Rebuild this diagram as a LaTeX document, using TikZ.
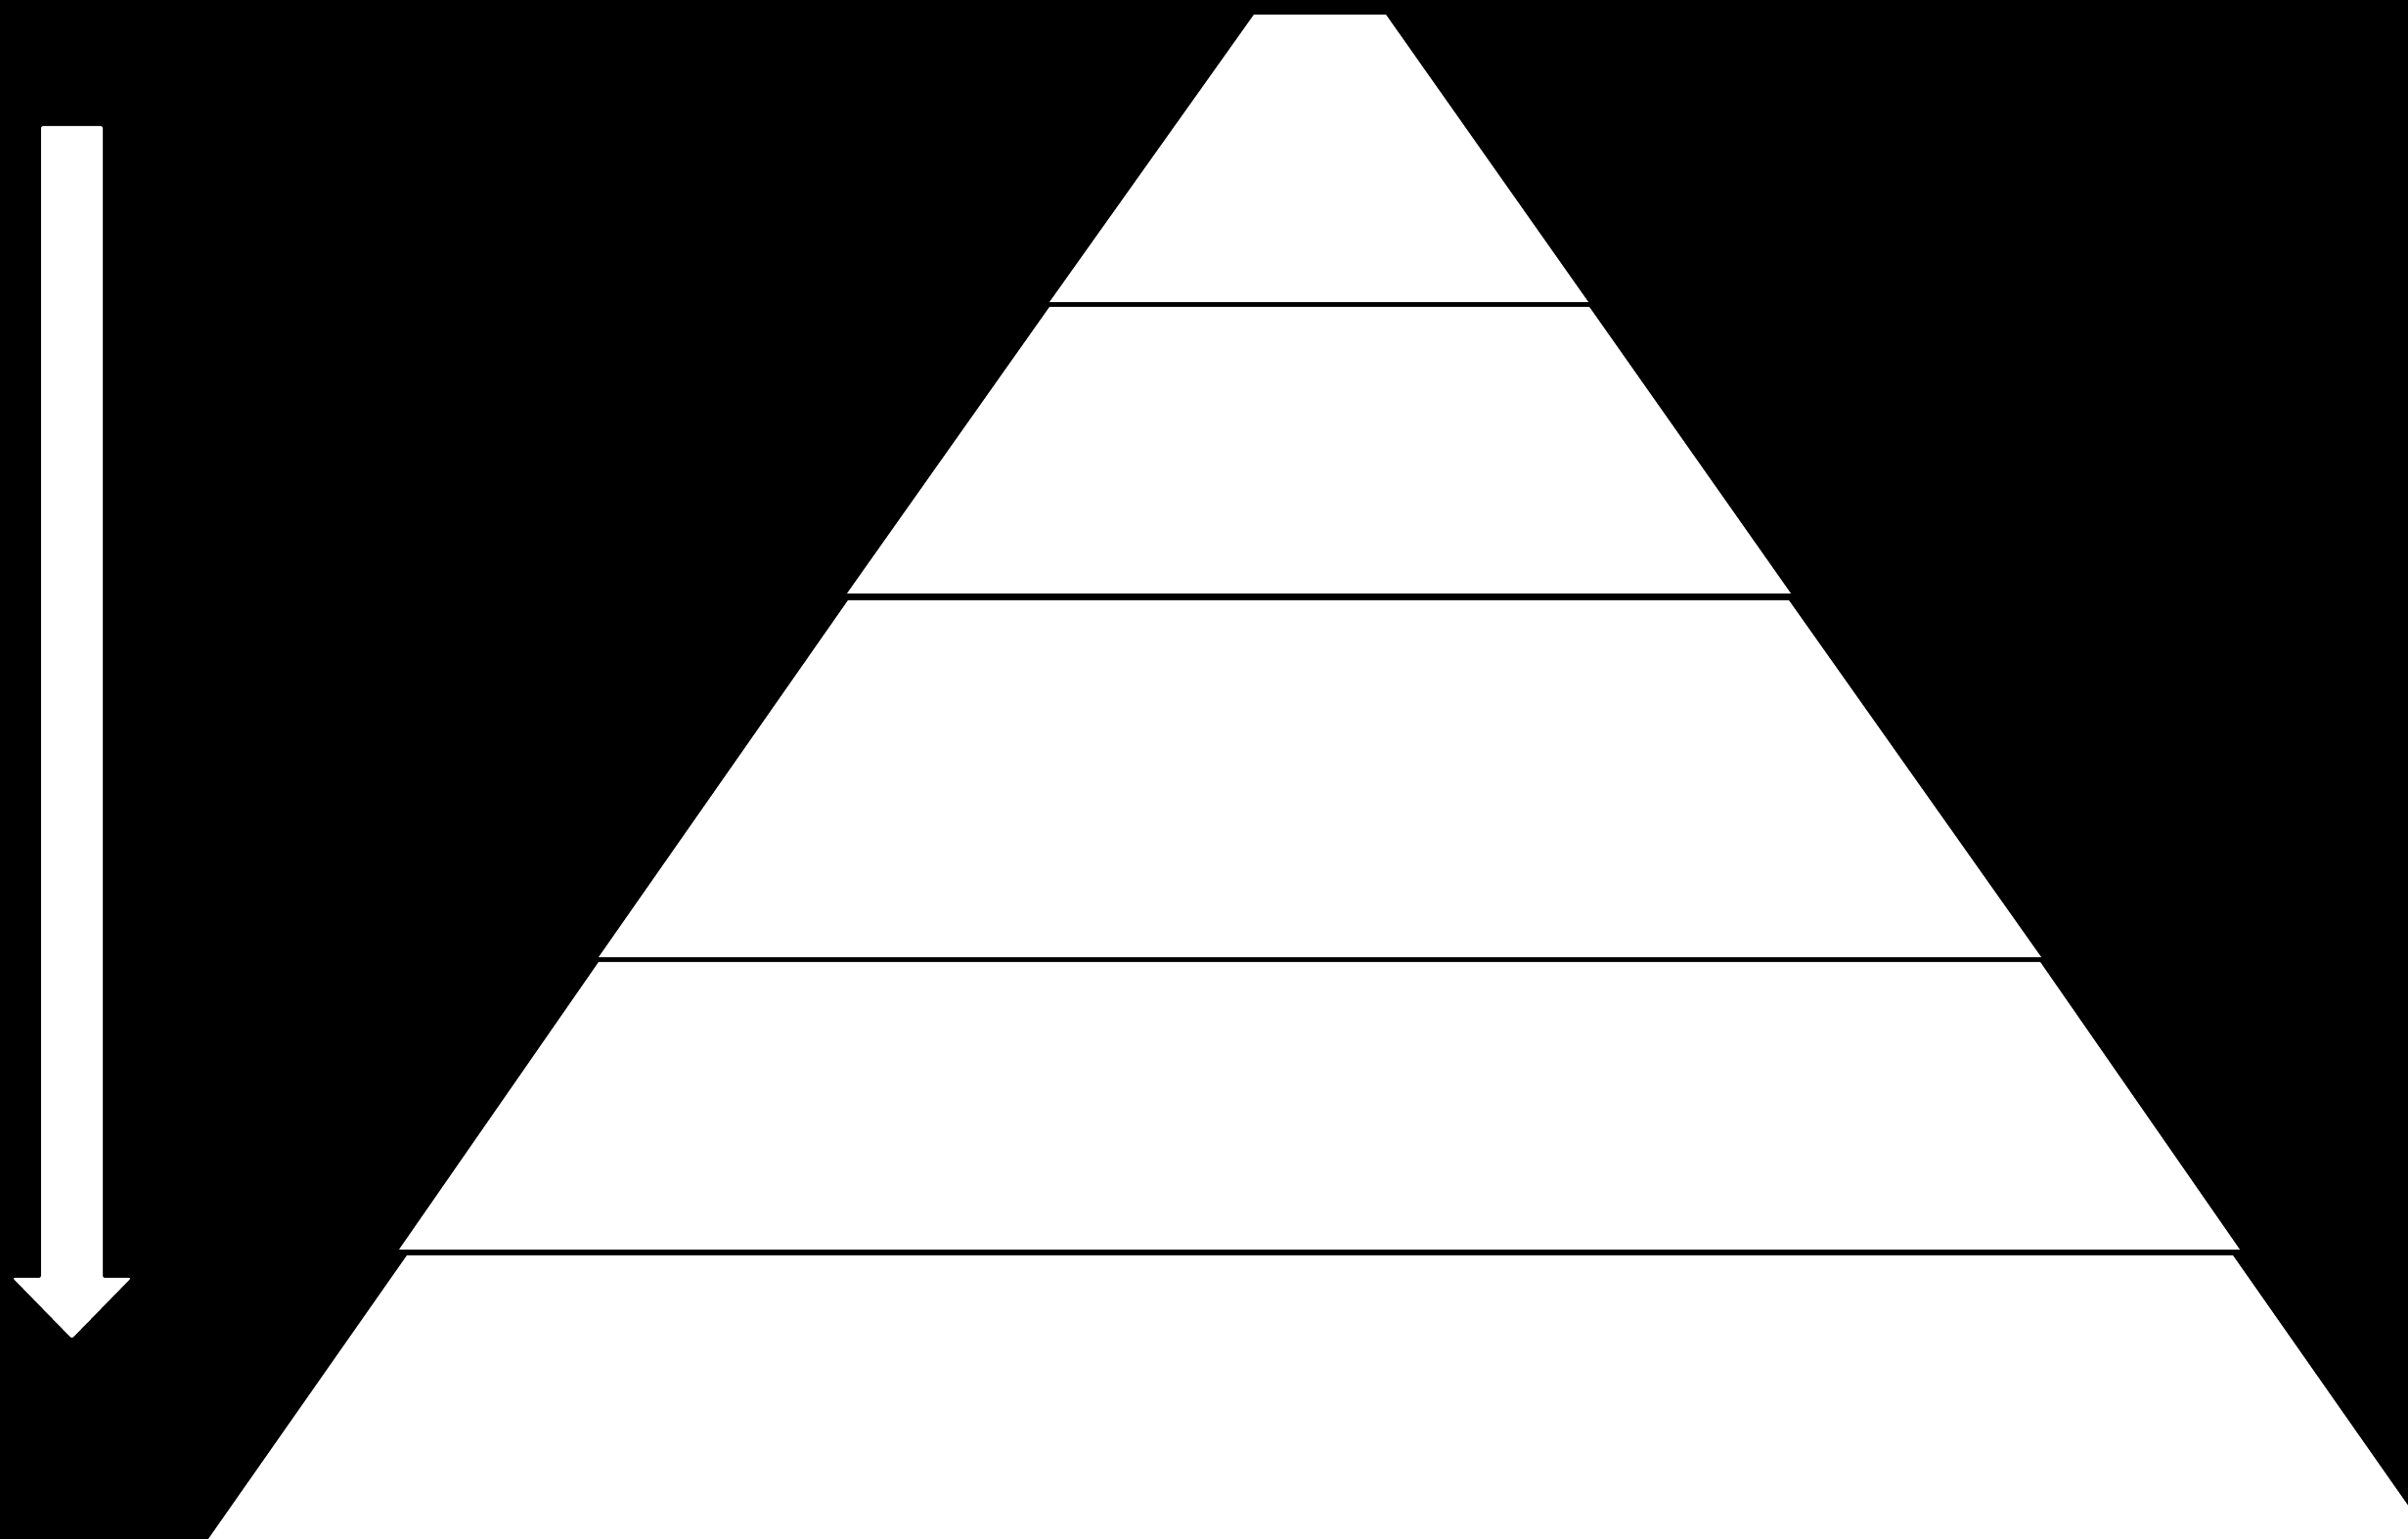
\documentclass[tikz,border=0pt]{standalone}
\usepackage{xcolor}
\usepackage{tikz}
\usetikzlibrary{calc}
\definecolor{FondoNegro}{RGB}{0,0,0}
\definecolor{CapaBlanca}{RGB}{255,255,255}

\begin{document}
\begin{tikzpicture}[x=1cm,y=1cm,
    capa/.style={fill=CapaBlanca,draw=none},
    flecha/.style={fill=CapaBlanca,draw=none,rounded corners=0.6pt}]
  % Fondo
  \useasboundingbox (0,0) rectangle (24.62,15.74);
  \fill[FondoNegro] (0,0) rectangle (24.62,15.74);
  \clip (0,0) rectangle (24.62,15.74);

  % Capa 1 (cima)
  \fill[capa] (12.82,15.59) -- (14.17,15.59) -- (16.24,12.65) -- (10.73,12.65) -- cycle;
  % Capa 2
  \fill[capa] (10.73,12.60) -- (16.25,12.60) -- (18.31,9.67) -- (8.66,9.67) -- cycle;
  % Capa 3
  \fill[capa] (8.67,9.60) -- (18.29,9.60) -- (20.87,5.95) -- (6.12,5.95) -- cycle;
  % Capa 4
  \fill[capa] (6.12,5.90) -- (20.86,5.90) -- (22.90,2.96) -- (4.08,2.96) -- cycle;
  % Capa 5 (base)
  \fill[capa] (4.16,2.90) -- (22.83,2.90) -- (24.86,0) -- (2.13,0) -- cycle;

  % Flecha hacia abajo
  \fill[flecha] (0.42,14.45) -- (1.05,14.45) -- (1.05,2.67) -- (1.34,2.67)
    -- (0.735,2.05) -- (0.13,2.67) -- (0.42,2.67) -- cycle;
\end{tikzpicture}
\end{document}
